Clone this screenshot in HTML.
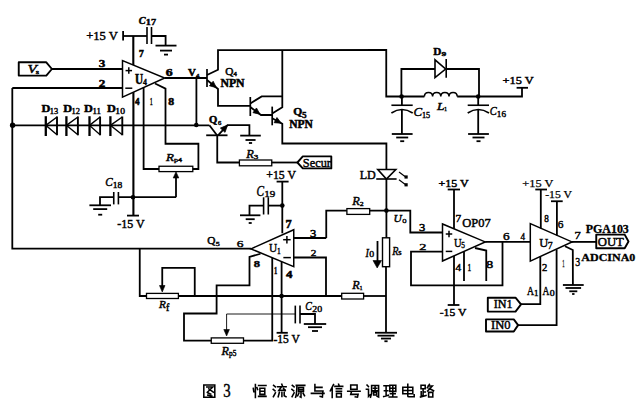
<!DOCTYPE html>
<html><head><meta charset="utf-8"><style>
html,body{margin:0;padding:0;background:#fff;}
body{width:640px;height:404px;overflow:hidden;}
svg{display:block;}
text{font-family:"Liberation Serif",serif;fill:#000;stroke:#000;stroke-width:0.35px;}
</style></head><body>
<svg width="640" height="404" viewBox="0 0 640 404">
<rect width="640" height="404" fill="#fff"/>
<g stroke="#000" stroke-linejoin="miter" stroke-linecap="butt">
<polyline points="123.10,31.00 123.10,40.50" stroke-width="1.8" fill="none"/>
<polyline points="123.10,36.00 147.00,36.00" stroke-width="1.8" fill="none"/>
<polyline points="147.00,27.00 147.00,44.00" stroke-width="1.6" fill="none"/>
<polyline points="151.50,27.00 151.50,44.00" stroke-width="1.6" fill="none"/>
<polyline points="151.50,36.00 165.60,36.00 165.60,45.60" stroke-width="1.8" fill="none"/>
<polyline points="155.50,45.60 176.50,45.60" stroke-width="1.8" fill="none"/>
<polyline points="160.00,50.60 172.00,50.60" stroke-width="1.8" fill="none"/>
<polyline points="164.00,54.60 168.00,54.60" stroke-width="1.8" fill="none"/>
<polyline points="133.30,36.00 133.30,65.00" stroke-width="2.1" fill="none"/>
<polygon points="122.50,60.50 122.50,97.20 164.70,78.00" stroke-width="1.5" fill="none"/>
<polygon points="18.75,62.30 46.30,62.30 51.90,69.00 46.30,75.60 18.75,75.60" stroke-width="1.9" fill="none" stroke-linejoin="round"/>
<polyline points="51.40,69.00 122.50,69.00" stroke-width="1.8" fill="none"/>
<polyline points="12.30,88.00 122.50,88.00" stroke-width="1.8" fill="none"/>
<polyline points="12.30,88.00 12.30,248.70 251.00,248.70" stroke-width="1.8" fill="none"/>
<polyline points="12.30,125.30 209.40,125.30" stroke-width="1.8" fill="none"/>
<circle cx="12.60" cy="125.30" r="2.7" fill="#000" stroke="none"/>
<circle cx="196.30" cy="125.00" r="2.3" fill="#000" stroke="none"/>
<polyline points="45.80,116.20 45.80,136.00" stroke-width="2.3" fill="none"/>
<polyline points="57.00,116.50 57.00,135.30" stroke-width="1.9" fill="none"/>
<polyline points="57.00,117.00 45.80,125.40 57.00,134.80" stroke-width="1.4" fill="none"/>
<polyline points="66.40,116.20 66.40,136.00" stroke-width="2.3" fill="none"/>
<polyline points="77.90,116.50 77.90,135.30" stroke-width="1.9" fill="none"/>
<polyline points="77.90,117.00 66.40,125.40 77.90,134.80" stroke-width="1.4" fill="none"/>
<polyline points="89.50,116.20 89.50,136.00" stroke-width="2.3" fill="none"/>
<polyline points="100.10,116.50 100.10,135.30" stroke-width="1.9" fill="none"/>
<polyline points="100.10,117.00 89.50,125.40 100.10,134.80" stroke-width="1.4" fill="none"/>
<polyline points="110.40,116.20 110.40,136.00" stroke-width="2.3" fill="none"/>
<polyline points="122.30,116.50 122.30,135.30" stroke-width="1.9" fill="none"/>
<polyline points="122.30,117.00 110.40,125.40 122.30,134.80" stroke-width="1.4" fill="none"/>
<polyline points="164.70,78.00 207.00,78.00" stroke-width="1.8" fill="none"/>
<polyline points="196.40,78.00 196.40,125.00" stroke-width="1.8" fill="none"/>
<polyline points="133.40,92.20 133.40,215.60" stroke-width="2.1" fill="none"/>
<polyline points="127.00,215.60 139.00,215.60" stroke-width="1.8" fill="none"/>
<polyline points="143.60,87.60 143.60,169.00 159.00,169.00" stroke-width="1.8" fill="none"/>
<rect x="159.00" y="166.25" width="33.80" height="5.35" stroke-width="1.3" fill="none"/>
<polyline points="155.00,83.50 165.50,88.60 165.50,143.75 198.40,143.75 198.40,169.00 192.80,169.00" stroke-width="1.8" fill="none"/>
<polyline points="176.00,197.20 176.00,175.00" stroke-width="1.8" fill="none"/>
<polygon points="176.00,171.80 173.20,178.00 178.80,178.00" stroke-width="0.6" fill="#000"/>
<polyline points="118.40,197.20 176.00,197.20" stroke-width="1.8" fill="none"/>
<polyline points="100.00,205.30 100.00,197.20 113.75,197.20" stroke-width="1.8" fill="none"/>
<polyline points="113.75,192.00 113.75,204.40" stroke-width="1.6" fill="none"/>
<polyline points="118.40,192.00 118.40,204.40" stroke-width="1.6" fill="none"/>
<polyline points="89.40,205.30 111.00,205.30" stroke-width="1.8" fill="none"/>
<polyline points="93.20,209.10 107.20,209.10" stroke-width="1.8" fill="none"/>
<polyline points="98.20,214.70 102.20,214.70" stroke-width="1.8" fill="none"/>
<circle cx="133.00" cy="197.20" r="2.3" fill="#000" stroke="none"/>
<polyline points="207.00,69.00 207.00,87.00" stroke-width="1.7" fill="none"/>
<polyline points="207.00,75.00 218.00,69.70 218.00,50.20 386.25,50.00 386.25,96.50 424.40,96.50" stroke-width="1.8" fill="none"/>
<polyline points="207.00,80.00 218.00,89.00 218.00,105.80 250.30,105.80" stroke-width="1.8" fill="none"/>
<polygon points="216.35,87.65 209.47,85.80 213.17,81.27" stroke-width="0.8" fill="#000"/>
<polyline points="250.30,97.00 250.30,116.00" stroke-width="1.7" fill="none"/>
<polyline points="250.30,103.40 261.70,96.40 282.30,96.40" stroke-width="1.8" fill="none"/>
<polyline points="250.30,107.00 261.00,115.00 272.20,115.00" stroke-width="1.8" fill="none"/>
<polygon points="259.93,114.20 252.97,112.65 256.48,107.97" stroke-width="0.8" fill="#000"/>
<polyline points="272.20,106.60 272.20,125.30" stroke-width="1.7" fill="none"/>
<polyline points="272.20,113.60 282.30,107.30 282.30,50.00" stroke-width="1.8" fill="none"/>
<polyline points="272.20,118.30 282.30,123.75 282.30,143.50 386.40,143.50 386.40,169.50" stroke-width="1.8" fill="none"/>
<polygon points="281.29,123.20 274.18,122.69 276.96,117.54" stroke-width="0.8" fill="#000"/>
<polyline points="206.20,135.30 227.50,135.30" stroke-width="1.8" fill="none"/>
<polyline points="209.40,125.30 217.00,135.30" stroke-width="1.8" fill="none"/>
<polyline points="218.00,135.30 227.50,125.10 249.40,125.10 249.40,135.60" stroke-width="1.8" fill="none"/>
<polygon points="227.50,125.10 225.03,132.37 220.42,128.08" stroke-width="0.8" fill="#000"/>
<polyline points="240.20,135.60 260.80,135.60" stroke-width="1.8" fill="none"/>
<polyline points="245.50,140.00 255.50,140.00" stroke-width="1.8" fill="none"/>
<polyline points="248.90,143.00 252.10,143.00" stroke-width="1.8" fill="none"/>
<polyline points="217.25,135.30 217.25,162.50 239.40,162.50" stroke-width="1.8" fill="none"/>
<rect x="239.40" y="160.00" width="32.35" height="5.80" stroke-width="1.3" fill="none"/>
<polyline points="271.75,162.50 297.40,162.50" stroke-width="1.8" fill="none"/>
<polygon points="297.40,162.50 302.80,156.40 331.30,156.40 331.30,168.40 302.80,168.40" stroke-width="1.9" fill="none" stroke-linejoin="round"/>
<polyline points="457.20,96.50 522.00,96.50 522.00,87.80" stroke-width="1.8" fill="none"/>
<polyline points="516.60,87.80 528.00,87.80" stroke-width="1.8" fill="none"/>
<circle cx="401.60" cy="96.50" r="2.3" fill="#000" stroke="none"/>
<circle cx="478.20" cy="96.50" r="2.3" fill="#000" stroke="none"/>
<polyline points="401.40,96.50 401.40,69.00 435.00,69.00" stroke-width="1.8" fill="none"/>
<polygon points="435.00,59.80 435.00,77.50 445.60,69.00" stroke-width="1.6" fill="none"/>
<polyline points="446.20,59.00 446.20,77.70" stroke-width="1.6" fill="none"/>
<polyline points="446.00,69.00 479.00,69.00 479.00,96.50" stroke-width="1.8" fill="none"/>
<path d="M424.40,96.5 C424.40,91 432.60,91 432.60,96.5 C432.60,91 440.80,91 440.80,96.5 C440.80,91 449.00,91 449.00,96.5 C449.00,91 457.20,91 457.20,96.5 " stroke-width="1.5" fill="none"/>
<polyline points="401.90,96.50 401.90,105.25" stroke-width="1.8" fill="none"/>
<polyline points="391.40,105.25 412.70,105.25" stroke-width="1.6" fill="none"/>
<path d="M391.40,113 Q401.90,106 412.70,113" stroke-width="1.6" fill="none"/>
<polyline points="401.90,109.60 401.90,134.00" stroke-width="1.8" fill="none"/>
<polyline points="391.80,134.00 412.60,134.00" stroke-width="1.8" fill="none"/>
<polyline points="396.20,137.50 408.20,137.50" stroke-width="1.8" fill="none"/>
<polyline points="400.20,141.20 404.20,141.20" stroke-width="1.8" fill="none"/>
<polyline points="478.20,96.50 478.20,105.25" stroke-width="1.8" fill="none"/>
<polyline points="467.70,105.25 489.00,105.25" stroke-width="1.6" fill="none"/>
<path d="M467.70,113 Q478.20,106 489.00,113" stroke-width="1.6" fill="none"/>
<polyline points="478.20,109.60 478.20,134.00" stroke-width="1.8" fill="none"/>
<polyline points="468.10,134.00 488.90,134.00" stroke-width="1.8" fill="none"/>
<polyline points="472.50,137.50 484.50,137.50" stroke-width="1.8" fill="none"/>
<polyline points="476.50,141.20 480.50,141.20" stroke-width="1.8" fill="none"/>
<polygon points="377.80,169.50 395.80,169.50 386.40,179.00" stroke-width="1.6" fill="none"/>
<polyline points="376.25,179.00 396.60,179.00" stroke-width="1.6" fill="none"/>
<polyline points="386.40,179.00 386.40,237.80" stroke-width="1.8" fill="none"/>
<rect x="382.50" y="237.80" width="7.10" height="28.90" stroke-width="1.4" fill="none"/>
<polyline points="386.00,266.70 386.00,332.75" stroke-width="1.8" fill="none"/>
<polyline points="375.00,332.75 397.00,332.75" stroke-width="1.8" fill="none"/>
<polyline points="377.50,335.65 394.50,335.65" stroke-width="1.8" fill="none"/>
<polyline points="381.00,338.55 391.00,338.55" stroke-width="1.8" fill="none"/>
<polyline points="384.40,341.25 387.60,341.25" stroke-width="1.8" fill="none"/>
<polyline points="399.00,171.90 405.00,176.40" stroke-width="1.2" fill="none"/>
<rect x="404.50" y="175.40" width="3.2" height="3.2" fill="#000" stroke="none"/>
<polyline points="399.00,179.70 405.00,184.20" stroke-width="1.2" fill="none"/>
<rect x="404.50" y="183.20" width="3.2" height="3.2" fill="#000" stroke="none"/>
<circle cx="386.40" cy="210.60" r="2.3" fill="#000" stroke="none"/>
<polyline points="326.25,238.00 326.25,210.60 346.90,210.60" stroke-width="1.8" fill="none"/>
<rect x="346.90" y="208.60" width="22.80" height="5.80" stroke-width="1.3" fill="none"/>
<polyline points="369.70,210.60 410.30,210.60 410.30,232.50 442.50,232.50" stroke-width="1.8" fill="none"/>
<polyline points="293.75,238.00 326.25,238.00" stroke-width="1.8" fill="none"/>
<polyline points="377.50,241.00 377.50,263.00" stroke-width="1.8" fill="none"/>
<polygon points="377.20,268.00 373.00,260.50 381.50,260.50" stroke-width="0.6" fill="#000"/>
<polyline points="139.75,248.70 139.75,296.00 146.50,296.00" stroke-width="1.8" fill="none"/>
<rect x="146.50" y="293.40" width="31.90" height="5.10" stroke-width="1.3" fill="none"/>
<polyline points="178.40,296.00 341.70,296.00" stroke-width="1.8" fill="none"/>
<rect x="341.70" y="293.30" width="21.90" height="5.70" stroke-width="1.3" fill="none"/>
<polyline points="363.60,296.00 386.00,296.00" stroke-width="1.8" fill="none"/>
<polyline points="194.75,296.00 194.75,267.90 162.25,267.90 162.25,287.00" stroke-width="1.8" fill="none"/>
<polygon points="162.25,292.00 159.50,285.50 165.00,285.50" stroke-width="0.6" fill="#000"/>
<polygon points="293.75,229.70 293.75,266.60 251.00,248.90" stroke-width="1.5" fill="none"/>
<polyline points="282.30,181.60 282.30,233.30" stroke-width="1.8" fill="none"/>
<polyline points="276.60,181.60 288.60,181.60" stroke-width="1.8" fill="none"/>
<circle cx="282.30" cy="205.60" r="2.3" fill="#000" stroke="none"/>
<polyline points="282.30,205.60 268.30,205.60" stroke-width="1.8" fill="none"/>
<polyline points="263.60,197.30 263.60,214.50" stroke-width="1.6" fill="none"/>
<polyline points="268.30,197.30 268.30,214.50" stroke-width="1.6" fill="none"/>
<polyline points="263.60,205.60 249.50,205.60 249.50,215.30" stroke-width="1.8" fill="none"/>
<polyline points="240.00,215.30 260.40,215.30" stroke-width="1.8" fill="none"/>
<polyline points="245.70,219.20 254.70,219.20" stroke-width="1.8" fill="none"/>
<polyline points="248.70,223.00 251.70,223.00" stroke-width="1.8" fill="none"/>
<polyline points="293.75,257.50 326.00,257.50 326.00,296.00" stroke-width="1.8" fill="none"/>
<polyline points="260.50,253.75 249.50,256.90 249.50,285.30 216.60,285.30 216.60,313.50 184.00,313.50 184.00,340.70 211.25,340.70" stroke-width="1.8" fill="none"/>
<rect x="211.25" y="337.90" width="32.25" height="5.40" stroke-width="1.3" fill="none"/>
<polyline points="243.50,340.70 272.25,340.70 272.25,258.00" stroke-width="1.8" fill="none"/>
<polyline points="281.60,261.90 281.60,332.80" stroke-width="1.8" fill="none"/>
<circle cx="281.60" cy="296.00" r="2.3" fill="#000" stroke="none"/>
<polyline points="276.60,332.80 287.80,332.80" stroke-width="1.8" fill="none"/>
<polyline points="226.60,331.00 226.60,314.00 295.30,314.00" stroke-width="0.9" fill="none"/>
<polygon points="226.60,336.00 223.80,329.50 229.40,329.50" stroke-width="0.6" fill="#000"/>
<polyline points="295.30,305.60 295.30,323.40" stroke-width="1.6" fill="none"/>
<polyline points="300.00,305.60 300.00,323.40" stroke-width="1.6" fill="none"/>
<polyline points="300.00,314.00 315.00,314.00 315.00,324.00" stroke-width="1.8" fill="none"/>
<polyline points="303.80,324.00 326.20,324.00" stroke-width="1.8" fill="none"/>
<polyline points="308.00,327.20 322.00,327.20" stroke-width="1.8" fill="none"/>
<polyline points="312.00,331.00 318.00,331.00" stroke-width="1.8" fill="none"/>
<polygon points="442.50,224.00 442.50,261.00 485.20,241.90" stroke-width="1.5" fill="none"/>
<polyline points="454.00,189.50 454.00,228.80" stroke-width="1.8" fill="none"/>
<polyline points="447.70,189.50 460.00,189.50" stroke-width="1.8" fill="none"/>
<polyline points="442.50,251.60 411.00,251.60 411.00,285.30 502.50,285.30 502.50,241.90" stroke-width="1.8" fill="none"/>
<polyline points="485.20,241.90 530.30,241.90" stroke-width="1.8" fill="none"/>
<polyline points="454.00,255.90 454.00,305.00" stroke-width="1.8" fill="none"/>
<polyline points="447.70,305.00 459.40,305.00" stroke-width="1.8" fill="none"/>
<polyline points="464.00,251.50 464.00,281.00" stroke-width="1.8" fill="none"/>
<polyline points="475.00,248.00 486.25,250.50 486.25,281.00" stroke-width="1.8" fill="none"/>
<polygon points="530.30,223.60 530.30,261.10 572.00,241.90" stroke-width="1.5" fill="none"/>
<polyline points="540.80,189.50 540.80,228.50" stroke-width="1.8" fill="none"/>
<polyline points="535.30,189.50 547.00,189.50" stroke-width="1.8" fill="none"/>
<polyline points="556.90,201.25 556.90,235.50" stroke-width="1.8" fill="none"/>
<polyline points="551.00,201.25 562.70,201.25" stroke-width="1.8" fill="none"/>
<polyline points="540.30,256.50 540.30,304.10 521.00,304.10" stroke-width="1.8" fill="none"/>
<polyline points="556.60,249.50 556.60,325.10 518.10,325.10" stroke-width="1.8" fill="none"/>
<polyline points="565.00,246.25 572.80,250.00 572.90,285.00" stroke-width="1.8" fill="none"/>
<polyline points="562.90,285.00 583.70,285.00" stroke-width="1.8" fill="none"/>
<polyline points="565.50,288.00 581.10,288.00" stroke-width="1.8" fill="none"/>
<polyline points="569.30,291.30 577.30,291.30" stroke-width="1.8" fill="none"/>
<polyline points="572.10,294.00 574.50,294.00" stroke-width="1.8" fill="none"/>
<polyline points="572.00,241.90 596.25,241.90" stroke-width="1.8" fill="none"/>
<polygon points="596.25,234.60 624.70,234.60 628.50,241.50 624.70,248.30 596.25,248.30" stroke-width="1.9" fill="none" stroke-linejoin="round"/>
<polygon points="487.80,297.70 515.50,297.70 521.00,304.40 515.50,311.60 487.80,311.60" stroke-width="1.9" fill="none" stroke-linejoin="round"/>
<polygon points="486.00,319.40 513.80,319.40 518.10,325.10 513.80,331.50 486.00,331.50" stroke-width="1.9" fill="none" stroke-linejoin="round"/>
<text x="86.14" y="39.88" font-size="12.75" style="stroke-width:0.45px" textLength="31.79" lengthAdjust="spacingAndGlyphs" >+15 V</text>
<text x="138.81" y="23.69" font-size="11.26" font-style="italic" font-weight="bold" style="stroke-width:0.50px" textLength="6.85" lengthAdjust="spacingAndGlyphs" >C</text>
<text x="145.80" y="25.40" font-size="7.89" font-weight="bold" style="stroke-width:0.40px" textLength="10.25" lengthAdjust="spacingAndGlyphs" >17</text>
<text x="138.66" y="57.48" font-size="11.19" font-weight="bold" style="stroke-width:0.50px" textLength="5.07" lengthAdjust="spacingAndGlyphs" >7</text>
<text x="98.72" y="66.69" font-size="11.26" font-weight="bold" style="stroke-width:0.50px" textLength="6.56" lengthAdjust="spacingAndGlyphs" >3</text>
<text x="98.72" y="86.88" font-size="10.79" font-weight="bold" style="stroke-width:0.50px" textLength="6.56" lengthAdjust="spacingAndGlyphs" >2</text>
<text x="27.41" y="72.70" font-size="11.85" font-style="italic" style="stroke-width:0.45px" textLength="9.33" lengthAdjust="spacingAndGlyphs" >V</text>
<text x="35.84" y="73.81" font-size="5.59" style="stroke-width:0.40px" textLength="3.31" lengthAdjust="spacingAndGlyphs" >s</text>
<polyline points="125.55,70.60 132.05,70.60" stroke-width="1.5" fill="none"/>
<polyline points="128.80,67.35 128.80,73.85" stroke-width="1.5" fill="none"/>
<polyline points="125.30,88.20 132.30,88.20" stroke-width="1.5" fill="none"/>
<text x="134.96" y="83.66" font-size="13.74" font-weight="bold" style="stroke-width:0.50px" textLength="8.12" lengthAdjust="spacingAndGlyphs" >U</text>
<text x="143.10" y="85.40" font-size="7.89" font-weight="bold" style="stroke-width:0.40px" textLength="3.92" lengthAdjust="spacingAndGlyphs" >4</text>
<text x="165.70" y="75.72" font-size="9.81" font-weight="bold" style="stroke-width:0.50px" textLength="6.88" lengthAdjust="spacingAndGlyphs" >6</text>
<text x="188.12" y="75.71" font-size="10.03" font-weight="bold" style="stroke-width:0.50px" textLength="7.78" lengthAdjust="spacingAndGlyphs" >V</text>
<text x="196.10" y="77.90" font-size="7.14" font-weight="bold" style="stroke-width:0.40px" textLength="3.40" lengthAdjust="spacingAndGlyphs" >4</text>
<text x="135.12" y="104.88" font-size="10.04" font-weight="bold" style="stroke-width:0.50px" textLength="4.59" lengthAdjust="spacingAndGlyphs" >4</text>
<text x="149.64" y="104.89" font-size="10.08" style="stroke-width:0.45px" textLength="3.03" lengthAdjust="spacingAndGlyphs" >1</text>
<text x="168.36" y="104.72" font-size="9.81" font-weight="bold" style="stroke-width:0.50px" textLength="5.88" lengthAdjust="spacingAndGlyphs" >8</text>
<text x="225.26" y="74.66" font-size="10.04" style="stroke-width:0.45px" textLength="8.16" lengthAdjust="spacingAndGlyphs" >Q</text>
<text x="233.60" y="76.40" font-size="7.14" font-weight="bold" style="stroke-width:0.40px" textLength="3.40" lengthAdjust="spacingAndGlyphs" >4</text>
<text x="220.45" y="86.88" font-size="11.80" font-weight="bold" style="stroke-width:0.50px" textLength="24.16" lengthAdjust="spacingAndGlyphs" >NPN</text>
<text x="293.39" y="114.57" font-size="10.49" font-weight="bold" style="stroke-width:0.50px" textLength="8.98" lengthAdjust="spacingAndGlyphs" >Q</text>
<text x="302.11" y="118.05" font-size="9.06" font-weight="bold" style="stroke-width:0.40px" textLength="4.68" lengthAdjust="spacingAndGlyphs" >5</text>
<text x="289.25" y="128.07" font-size="11.80" font-weight="bold" style="stroke-width:0.50px" textLength="23.66" lengthAdjust="spacingAndGlyphs" >NPN</text>
<text x="209.03" y="122.83" font-size="9.54" font-weight="bold" style="stroke-width:0.50px" textLength="8.30" lengthAdjust="spacingAndGlyphs" >Q</text>
<text x="217.90" y="124.61" font-size="5.52" style="stroke-width:0.40px" textLength="3.30" lengthAdjust="spacingAndGlyphs" >6</text>
<text x="246.31" y="158.49" font-size="11.99" font-style="italic" style="stroke-width:0.45px" textLength="7.59" lengthAdjust="spacingAndGlyphs" >R</text>
<text x="253.69" y="159.29" font-size="6.98" style="stroke-width:0.40px" textLength="4.49" lengthAdjust="spacingAndGlyphs" >3</text>
<text x="302.85" y="166.67" font-size="13.48" style="stroke-width:0.45px" textLength="28.09" lengthAdjust="spacingAndGlyphs" >Secur</text>
<text x="41.54" y="111.70" font-size="11.22" font-weight="bold" style="stroke-width:0.50px" textLength="8.85" lengthAdjust="spacingAndGlyphs" >D</text>
<text x="49.85" y="113.78" font-size="7.70" style="stroke-width:0.40px" textLength="8.31" lengthAdjust="spacingAndGlyphs" >13</text>
<text x="63.34" y="111.70" font-size="11.22" font-weight="bold" style="stroke-width:0.50px" textLength="8.85" lengthAdjust="spacingAndGlyphs" >D</text>
<text x="71.64" y="113.90" font-size="7.89" style="stroke-width:0.40px" textLength="8.45" lengthAdjust="spacingAndGlyphs" >12</text>
<text x="84.14" y="111.70" font-size="11.22" font-weight="bold" style="stroke-width:0.50px" textLength="8.85" lengthAdjust="spacingAndGlyphs" >D</text>
<text x="92.41" y="113.90" font-size="7.89" style="stroke-width:0.40px" textLength="8.49" lengthAdjust="spacingAndGlyphs" >11</text>
<text x="107.14" y="111.70" font-size="11.22" font-weight="bold" style="stroke-width:0.50px" textLength="8.85" lengthAdjust="spacingAndGlyphs" >D</text>
<text x="115.36" y="113.78" font-size="7.70" style="stroke-width:0.40px" textLength="9.54" lengthAdjust="spacingAndGlyphs" >10</text>
<text x="165.92" y="161.49" font-size="11.23" font-style="italic" style="stroke-width:0.45px" textLength="7.98" lengthAdjust="spacingAndGlyphs" >R</text>
<text x="173.98" y="161.85" font-size="7.07" style="stroke-width:0.40px" textLength="8.04" lengthAdjust="spacingAndGlyphs" >p4</text>
<text x="105.20" y="185.70" font-size="12.03" font-style="italic" style="stroke-width:0.45px" textLength="7.45" lengthAdjust="spacingAndGlyphs" >C</text>
<text x="112.66" y="187.77" font-size="8.43" style="stroke-width:0.40px" textLength="9.54" lengthAdjust="spacingAndGlyphs" >18</text>
<text x="117.24" y="227.50" font-size="11.88" style="stroke-width:0.45px" textLength="27.38" lengthAdjust="spacingAndGlyphs" >-15 V</text>
<text x="266.27" y="179.09" font-size="12.46" style="stroke-width:0.45px" textLength="29.65" lengthAdjust="spacingAndGlyphs" >+15 V</text>
<text x="256.59" y="195.66" font-size="14.21" font-style="italic" style="stroke-width:0.45px" textLength="7.56" lengthAdjust="spacingAndGlyphs" >C</text>
<text x="264.24" y="197.25" font-size="9.16" style="stroke-width:0.40px" textLength="11.00" lengthAdjust="spacingAndGlyphs" >19</text>
<text x="285.55" y="227.68" font-size="11.49" font-weight="bold" style="stroke-width:0.50px" textLength="6.21" lengthAdjust="spacingAndGlyphs" >7</text>
<polyline points="283.15,239.70 290.65,239.70" stroke-width="1.5" fill="none"/>
<polyline points="286.90,235.95 286.90,243.45" stroke-width="1.5" fill="none"/>
<polyline points="283.35,257.60 290.85,257.60" stroke-width="1.5" fill="none"/>
<text x="268.94" y="252.48" font-size="12.74" style="stroke-width:0.45px" textLength="8.15" lengthAdjust="spacingAndGlyphs" >U</text>
<text x="277.02" y="253.90" font-size="8.63" style="stroke-width:0.40px" textLength="3.72" lengthAdjust="spacingAndGlyphs" >1</text>
<text x="236.68" y="247.25" font-size="9.16" style="stroke-width:0.40px" textLength="6.72" lengthAdjust="spacingAndGlyphs" >6</text>
<text x="207.26" y="244.20" font-size="9.80" style="stroke-width:0.45px" textLength="8.16" lengthAdjust="spacingAndGlyphs" >Q</text>
<text x="215.73" y="246.30" font-size="6.39" style="stroke-width:0.40px" textLength="4.02" lengthAdjust="spacingAndGlyphs" >5</text>
<text x="310.04" y="236.73" font-size="9.85" style="stroke-width:0.45px" textLength="6.24" lengthAdjust="spacingAndGlyphs" >3</text>
<text x="310.75" y="256.30" font-size="9.23" style="stroke-width:0.40px" textLength="5.67" lengthAdjust="spacingAndGlyphs" >2</text>
<text x="253.71" y="267.06" font-size="8.87" font-weight="bold" style="stroke-width:0.40px" textLength="6.28" lengthAdjust="spacingAndGlyphs" >8</text>
<text x="274.08" y="273.50" font-size="9.52" font-weight="bold" style="stroke-width:0.40px" textLength="3.32" lengthAdjust="spacingAndGlyphs" >1</text>
<text x="286.12" y="278.18" font-size="11.24" font-weight="bold" style="stroke-width:0.50px" textLength="6.44" lengthAdjust="spacingAndGlyphs" >4</text>
<text x="159.04" y="308.29" font-size="10.92" font-style="italic" style="stroke-width:0.45px" textLength="6.86" lengthAdjust="spacingAndGlyphs" >R</text>
<text x="165.96" y="311.39" font-size="10.12" style="stroke-width:0.45px" textLength="3.31" lengthAdjust="spacingAndGlyphs" >f</text>
<text x="221.51" y="355.39" font-size="11.53" font-style="italic" style="stroke-width:0.45px" textLength="7.39" lengthAdjust="spacingAndGlyphs" >R</text>
<text x="229.00" y="356.37" font-size="8.76" style="stroke-width:0.45px" textLength="7.31" lengthAdjust="spacingAndGlyphs" >p5</text>
<text x="273.51" y="342.70" font-size="11.74" style="stroke-width:0.45px" textLength="26.41" lengthAdjust="spacingAndGlyphs" >-15 V</text>
<text x="305.26" y="310.00" font-size="11.74" font-style="italic" style="stroke-width:0.45px" textLength="6.62" lengthAdjust="spacingAndGlyphs" >C</text>
<text x="312.29" y="311.77" font-size="8.43" style="stroke-width:0.40px" textLength="9.91" lengthAdjust="spacingAndGlyphs" >20</text>
<text x="352.21" y="289.29" font-size="11.53" font-style="italic" style="stroke-width:0.45px" textLength="7.39" lengthAdjust="spacingAndGlyphs" >R</text>
<text x="359.62" y="289.90" font-size="7.14" style="stroke-width:0.40px" textLength="3.06" lengthAdjust="spacingAndGlyphs" >1</text>
<text x="352.31" y="205.39" font-size="12.75" font-style="italic" style="stroke-width:0.45px" textLength="7.59" lengthAdjust="spacingAndGlyphs" >R</text>
<text x="359.86" y="205.90" font-size="7.14" style="stroke-width:0.40px" textLength="3.90" lengthAdjust="spacingAndGlyphs" >2</text>
<text x="359.73" y="178.69" font-size="12.59" style="stroke-width:0.45px" textLength="16.07" lengthAdjust="spacingAndGlyphs" >LD</text>
<text x="393.42" y="222.41" font-size="11.40" font-style="italic" style="stroke-width:0.45px" textLength="8.28" lengthAdjust="spacingAndGlyphs" >U</text>
<text x="402.33" y="222.76" font-size="8.58" style="stroke-width:0.40px" textLength="4.34" lengthAdjust="spacingAndGlyphs" >o</text>
<text x="365.58" y="256.89" font-size="12.75" font-style="italic" style="stroke-width:0.45px" textLength="3.39" lengthAdjust="spacingAndGlyphs" >I</text>
<text x="369.30" y="257.27" font-size="8.43" style="stroke-width:0.40px" textLength="4.91" lengthAdjust="spacingAndGlyphs" >0</text>
<text x="392.18" y="255.39" font-size="12.75" font-style="italic" style="stroke-width:0.45px" textLength="6.22" lengthAdjust="spacingAndGlyphs" >R</text>
<text x="398.34" y="255.28" font-size="7.58" style="stroke-width:0.40px" textLength="3.31" lengthAdjust="spacingAndGlyphs" >s</text>
<text x="433.36" y="54.50" font-size="11.22" font-weight="bold" style="stroke-width:0.50px" textLength="8.10" lengthAdjust="spacingAndGlyphs" >D</text>
<text x="441.46" y="56.29" font-size="6.98" font-weight="bold" style="stroke-width:0.40px" textLength="4.74" lengthAdjust="spacingAndGlyphs" >9</text>
<text x="413.52" y="115.67" font-size="13.34" font-style="italic" style="stroke-width:0.45px" textLength="8.60" lengthAdjust="spacingAndGlyphs" >C</text>
<text x="421.96" y="118.27" font-size="8.43" style="stroke-width:0.40px" textLength="8.19" lengthAdjust="spacingAndGlyphs" >15</text>
<text x="436.93" y="110.19" font-size="11.07" font-style="italic" style="stroke-width:0.45px" textLength="7.50" lengthAdjust="spacingAndGlyphs" >L</text>
<text x="444.12" y="110.90" font-size="7.14" style="stroke-width:0.40px" textLength="3.06" lengthAdjust="spacingAndGlyphs" >1</text>
<text x="489.63" y="115.18" font-size="13.05" font-style="italic" style="stroke-width:0.45px" textLength="7.04" lengthAdjust="spacingAndGlyphs" >C</text>
<text x="496.89" y="116.77" font-size="8.43" style="stroke-width:0.40px" textLength="9.15" lengthAdjust="spacingAndGlyphs" >16</text>
<text x="502.55" y="84.41" font-size="10.86" style="stroke-width:0.45px" textLength="31.13" lengthAdjust="spacingAndGlyphs" >+15 V</text>
<text x="438.57" y="186.93" font-size="10.14" style="stroke-width:0.45px" textLength="30.11" lengthAdjust="spacingAndGlyphs" >+15 V</text>
<text x="455.41" y="222.19" font-size="10.31" style="stroke-width:0.45px" textLength="5.64" lengthAdjust="spacingAndGlyphs" >7</text>
<text x="462.23" y="227.49" font-size="12.46" style="stroke-width:0.45px" textLength="28.45" lengthAdjust="spacingAndGlyphs" >OP07</text>
<polyline points="445.75,234.00 452.25,234.00" stroke-width="1.5" fill="none"/>
<polyline points="449.00,230.75 449.00,237.25" stroke-width="1.5" fill="none"/>
<polyline points="445.75,251.40 452.25,251.40" stroke-width="1.5" fill="none"/>
<text x="453.95" y="246.97" font-size="13.48" style="stroke-width:0.45px" textLength="7.62" lengthAdjust="spacingAndGlyphs" >U</text>
<text x="461.26" y="247.76" font-size="8.62" style="stroke-width:0.40px" textLength="3.66" lengthAdjust="spacingAndGlyphs" >5</text>
<text x="419.04" y="230.73" font-size="9.85" style="stroke-width:0.45px" textLength="6.24" lengthAdjust="spacingAndGlyphs" >3</text>
<text x="419.15" y="249.60" font-size="9.08" style="stroke-width:0.40px" textLength="7.21" lengthAdjust="spacingAndGlyphs" >2</text>
<text x="455.44" y="271.49" font-size="10.23" style="stroke-width:0.45px" textLength="5.61" lengthAdjust="spacingAndGlyphs" >4</text>
<text x="467.54" y="271.49" font-size="10.23" style="stroke-width:0.45px" textLength="3.69" lengthAdjust="spacingAndGlyphs" >1</text>
<text x="486.38" y="268.13" font-size="9.85" style="stroke-width:0.45px" textLength="6.93" lengthAdjust="spacingAndGlyphs" >8</text>
<text x="439.76" y="315.71" font-size="10.86" style="stroke-width:0.45px" textLength="26.57" lengthAdjust="spacingAndGlyphs" >-15 V</text>
<text x="522.30" y="186.97" font-size="10.28" style="stroke-width:0.25px" textLength="30.97" lengthAdjust="spacingAndGlyphs" >+15 V</text>
<text x="545.20" y="197.76" font-size="11.01" style="stroke-width:0.25px" textLength="26.77" lengthAdjust="spacingAndGlyphs" >-15 V</text>
<text x="544.23" y="222.03" font-size="9.85" style="stroke-width:0.45px" textLength="4.54" lengthAdjust="spacingAndGlyphs" >8</text>
<text x="557.76" y="228.31" font-size="11.01" style="stroke-width:0.45px" textLength="5.70" lengthAdjust="spacingAndGlyphs" >6</text>
<text x="539.13" y="246.67" font-size="13.48" style="stroke-width:0.45px" textLength="8.99" lengthAdjust="spacingAndGlyphs" >U</text>
<text x="547.70" y="248.50" font-size="9.74" style="stroke-width:0.40px" textLength="4.85" lengthAdjust="spacingAndGlyphs" >7</text>
<text x="502.99" y="239.75" font-size="9.30" style="stroke-width:0.40px" textLength="6.61" lengthAdjust="spacingAndGlyphs" >6</text>
<text x="520.46" y="239.90" font-size="9.52" style="stroke-width:0.40px" textLength="4.57" lengthAdjust="spacingAndGlyphs" >4</text>
<text x="574.62" y="238.70" font-size="9.59" style="stroke-width:0.40px" textLength="6.26" lengthAdjust="spacingAndGlyphs" >7</text>
<text x="585.80" y="232.74" font-size="11.70" font-weight="bold" style="stroke-width:0.30px" textLength="43.00" lengthAdjust="spacingAndGlyphs" >PGA103</text>
<text x="597.72" y="245.69" font-size="12.17" style="stroke-width:0.45px" textLength="26.18" lengthAdjust="spacingAndGlyphs" >OUT</text>
<text x="581.33" y="261.00" font-size="10.68" font-weight="bold" style="stroke-width:0.30px" textLength="53.97" lengthAdjust="spacingAndGlyphs" >ADCINA0</text>
<text x="575.26" y="265.68" font-size="12.75" style="stroke-width:0.45px" textLength="4.93" lengthAdjust="spacingAndGlyphs" >3</text>
<text x="562.24" y="266.89" font-size="10.08" style="stroke-width:0.45px" textLength="2.36" lengthAdjust="spacingAndGlyphs" fill-opacity="0.5" >1</text>
<text x="542.08" y="271.14" font-size="10.16" style="stroke-width:0.45px" textLength="5.29" lengthAdjust="spacingAndGlyphs" >2</text>
<text x="526.91" y="294.89" font-size="12.31" style="stroke-width:0.45px" textLength="7.00" lengthAdjust="spacingAndGlyphs" >A</text>
<text x="533.92" y="295.90" font-size="8.63" style="stroke-width:0.40px" textLength="4.39" lengthAdjust="spacingAndGlyphs" >1</text>
<text x="542.51" y="294.89" font-size="12.31" style="stroke-width:0.45px" textLength="6.90" lengthAdjust="spacingAndGlyphs" >A</text>
<text x="549.80" y="295.77" font-size="8.43" style="stroke-width:0.40px" textLength="4.91" lengthAdjust="spacingAndGlyphs" >0</text>
<text x="493.64" y="307.89" font-size="12.31" style="stroke-width:0.45px" textLength="18.81" lengthAdjust="spacingAndGlyphs" >IN1</text>
<text x="491.02" y="329.49" font-size="12.46" style="stroke-width:0.45px" textLength="19.55" lengthAdjust="spacingAndGlyphs" >IN0</text>
<path transform="translate(202.30,383.8)" d="M1.5,1.2H12.5V13.5H1.5Z M4.5,3.2L10.5,3.2L5,8.5 M6.5,5L11,8.3 M6,9.2L8.5,10.3 M5.5,11.3L9.5,12.3" stroke-width="1.55" fill="none" stroke-linecap="square"/>
<path transform="translate(252.60,383.8)" d="M2.8,0.8V13.6 M0.7,4.5L1.2,7.8 M4.4,3.8L5,5.8 M6,1.8H13.4 M7.3,4.4H12.2V10.6H7.3Z M7.3,7.5H12.2 M6,12.6H13.4" stroke-width="1.55" fill="none" stroke-linecap="square"/>
<path transform="translate(272.60,383.8)" d="M1,1.5L2.8,3 M0.6,5.5L2.4,7 M0.8,12.8L2.8,9 M9.2,0.5L9.8,2 M5,3H13.5 M8.6,3.4L6.3,6.6L12.6,6.2 M11,4.8L12.6,6.8 M6.8,8.4L5.6,13 M9.3,8.4V12.6 M11.6,8.4V12L13.4,13" stroke-width="1.55" fill="none" stroke-linecap="square"/>
<path transform="translate(291.30,383.8)" d="M1,1.5L2.8,3 M0.6,5.5L2.4,7 M0.8,12.8L2.8,9 M5,1.6H13.5 M5.6,1.6Q5.5,10 4.3,13.4 M7.3,3.8H12.2V7.6H7.3Z M7.3,5.7H12.2 M9.7,7.6V13.4L8.8,13 M7.6,9.4L6.3,12 M11.8,9.4L13.2,12" stroke-width="1.55" fill="none" stroke-linecap="square"/>
<path transform="translate(310.60,383.8)" d="M4.3,0.8V7.2H12.4 M4.3,3.6H11.4 M0.8,9.6H13.4 M12.3,7.2L11.8,13.2L9.6,12.6" stroke-width="1.55" fill="none" stroke-linecap="square"/>
<path transform="translate(329.30,383.8)" d="M4.2,0.8L1,7 M2.9,4.8V13.6 M9.3,0.5L9.9,2 M5.6,2.6H13.4 M7,5H12.2 M7,7.4H12.2 M7.2,9.6H12V13.2H7.2Z" stroke-width="1.55" fill="none" stroke-linecap="square"/>
<path transform="translate(346.90,383.8)" d="M3.8,1.2H10.2V5.4H3.8Z M0.8,7.5H13.2 M4.4,8.5L3.8,10.6H11.2L10.6,13.4L8.4,13" stroke-width="1.55" fill="none" stroke-linecap="square"/>
<path transform="translate(365.60,383.8)" d="M1.4,1.2L2.8,2.8 M0.8,5.5H2.9V12.6L4.6,11 M6,1.8V9.6L4.9,13.4 M6,1.8H13V13.2L11.5,12.6 M7.9,4.5H11.1 M9.5,3.3V7.1 M7.5,7.1H11.5 M8,8.6H11V11.2H8Z" stroke-width="1.55" fill="none" stroke-linecap="square"/>
<path transform="translate(383.20,383.8)" d="M0.8,2H5 M1.2,7H4.6 M2.9,2V12 M0.5,12.8L5.2,11.4 M6.6,1.4H12.6V7.6H6.6Z M6.6,4.5H12.6 M9.6,1.4V13 M7.2,10H12 M6,13.2H13.6" stroke-width="1.55" fill="none" stroke-linecap="square"/>
<path transform="translate(400.80,383.8)" d="M2,3.5H12V10H2Z M2,6.75H12 M7,0.6V12.4Q7,13 8,13H13.4V11" stroke-width="1.55" fill="none" stroke-linecap="square"/>
<path transform="translate(420.00,383.8)" d="M1,1.5H5.2V5H1Z M3.1,5V12 M3.1,8.2H5.3 M1.2,8V12.6 M0.5,13.2L6,11.6 M9.4,0.6L7.2,4 M8.2,2.2H12.3L7.6,7.2 M9.2,4.6L13.6,7 M8.6,8.6H12.8V13.2H8.6Z" stroke-width="1.55" fill="none" stroke-linecap="square"/>
<text x="223.13" y="396.60" font-size="17.84" style="stroke-width:0.45px" textLength="7.42" lengthAdjust="spacingAndGlyphs" >3</text>
</g>
</svg>
</body></html>
